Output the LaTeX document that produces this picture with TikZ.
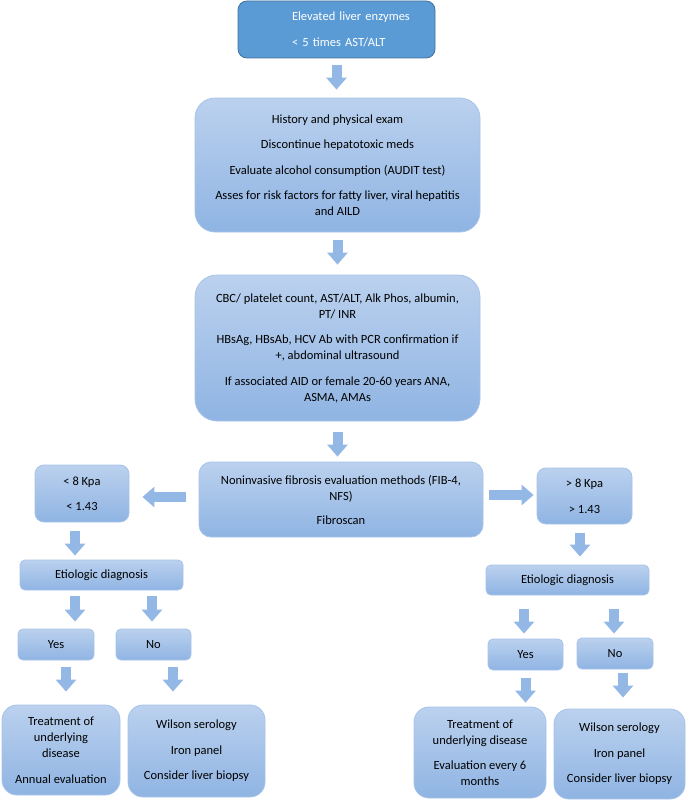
\documentclass[tikz,border=0pt]{standalone}
\usepackage{fontspec}
\setmainfont{Carlito}
\usetikzlibrary{arrows.meta,calc}

\definecolor{topfill}{RGB}{91,155,213}
\definecolor{topline}{RGB}{65,113,156}
\definecolor{boxtop}{RGB}{187,209,238}
\definecolor{boxbottom}{RGB}{143,180,227}
\definecolor{boxline}{RGB}{166,195,233}
\definecolor{arrowfill}{RGB}{148,184,229}

\begin{document}
\begin{tikzpicture}[x=1pt, y=-1pt,
  every node/.style={font=\fontsize{12.5}{16}\selectfont, align=center, inner sep=0pt},
  darkbox/.style={draw=topline, line width=0.8pt, fill=topfill, text=white, rounded corners=9pt},
  box/.style={draw=boxline, line width=0.8pt, top color=boxtop, bottom color=boxbottom, rounded corners=#1},
  box/.default=5pt,
  flow/.style={draw=arrowfill, line width=10pt, -{Triangle[width=20pt,length=12pt]}, shorten <=7pt, shorten >=7pt}]
    \useasboundingbox (0,0) rectangle (687,800);
    % Start
    \node[darkbox, minimum width=197pt, minimum height=57pt, text width=197pt, align=left] (enzymes) at (336.5,29.5)
      {\hspace*{54pt}Elevated liver enzymes\\[10pt]\hspace*{54pt}< 5 times AST/ALT};
    % Work-up
    \node[box=20pt, minimum width=285pt, minimum height=134pt] (history) at (337.5,165)
      {History and physical exam\\[9.5pt]Discontinue hepatotoxic meds\\[9.5pt]Evaluate alcohol consumption (AUDIT test)\\[9.5pt]Asses for risk factors for fatty liver, viral hepatitis\\and AILD};
    \node[box=22pt, minimum width=285pt, minimum height=146pt] (labs) at (337.5,348)
      {CBC/ platelet count, AST/ALT, Alk Phos, albumin,\\PT/ INR\\[9.5pt]HBsAg, HBsAb, HCV Ab with PCR confirmation if\\+, abdominal ultrasound\\[9.5pt]If associated AID or female 20-60 years ANA,\\ASMA, AMAs};
    \node[box=12pt, minimum width=284pt, minimum height=75pt] (fibrosis) at (341,499.5)
      {Noninvasive fibrosis evaluation methods (FIB-4,\\NFS)\\[8pt]Fibroscan};
    % Scores
    \node[box=9pt, minimum width=94pt, minimum height=57pt] (lowscore) at (82,493.5) {< 8 Kpa\\[9pt]< 1.43};
    \node[box=9pt, minimum width=95pt, minimum height=56pt] (highscore) at (584.5,496) {> 8 Kpa\\[10pt]> 1.43};
    % Etiology
    \node[box, minimum width=163pt, minimum height=30pt] (etiolow) at (101.5,575) {Etiologic diagnosis};
    \node[box, minimum width=163pt, minimum height=30pt] (etiohigh) at (567.5,580) {Etiologic diagnosis};
    \node[box, minimum width=76pt, minimum height=31pt] (yeslow) at (56,644.5) {Yes};
    \node[box, minimum width=75pt, minimum height=31pt] (nolow) at (153.5,644.5) {No};
    \node[box, minimum width=75pt, minimum height=31pt] (yeshigh) at (525.5,654.5) {Yes};
    \node[box, minimum width=76pt, minimum height=31pt] (nohigh) at (615,653.5) {No};
    % Management
    \node[box=15pt, minimum width=118pt, minimum height=90pt] (treatlow) at (61,750)
      {Treatment of\\underlying\\disease\\[10pt]Annual evaluation};
    \node[box=15pt, minimum width=137pt, minimum height=92pt] (wilsonlow) at (196.5,751)
      {Wilson serology\\[9.5pt]Iron panel\\[9.5pt]Consider liver biopsy};
    \node[box=15pt, minimum width=132pt, minimum height=91pt] (treathigh) at (480,752.5)
      {Treatment of\\underlying disease\\[9pt]Evaluation every 6\\months};
    \node[box=15pt, minimum width=131pt, minimum height=90pt] (wilsonhigh) at (619.5,754)
      {Wilson serology\\[9.5pt]Iron panel\\[9.5pt]Consider liver biopsy};
    % Arrows
    \draw[flow, shorten >=8pt] (enzymes.south) -- (enzymes.south |- history.north);
    \draw[flow, shorten <=8pt, shorten >=10pt] (history.south) -- (history.south |- labs.north);
    \draw[flow, shorten <=11pt, shorten >=5pt] (labs.south) -- (labs.south |- fibrosis.north);
    \draw[flow, shorten <=13pt, shorten >=13pt] ($(fibrosis.west)+(0,-2.5)$) -- ($(fibrosis.west -| lowscore.east)+(0,-2.5)$);
    \draw[flow, shorten <=6pt, shorten >=3pt] ($(fibrosis.east)+(0,-4.5)$) -- ($(fibrosis.east -| highscore.west)+(0,-4.5)$);
    \draw[flow, shorten <=9pt, shorten >=4pt] ($(lowscore.south)+(-7,0)$) -- ($(lowscore.south |- etiolow.north)+(-7,0)$);
    \draw[flow, shorten <=9pt, shorten >=8pt] ($(highscore.south)+(-4.5,0)$) -- ($(highscore.south |- etiohigh.north)+(-4.5,0)$);
    \draw[flow, shorten <=6pt] ($(etiolow.south)+(-26.5,0)$) -- ($(etiolow.south |- yeslow.north)+(-26.5,0)$);
    \draw[flow, shorten <=6pt] ($(etiolow.south)+(50.5,0)$) -- ($(etiolow.south |- nolow.north)+(50.5,0)$);
    \draw[flow, shorten <=14pt, shorten >=5pt] ($(etiohigh.south)+(-43.5,0)$) -- ($(etiohigh.south |- yeshigh.north)+(-43.5,0)$);
    \draw[flow, shorten <=14pt, shorten >=4pt] ($(etiohigh.south)+(46.5,0)$) -- ($(etiohigh.south |- nohigh.north)+(46.5,0)$);
    \draw[flow, shorten >=13pt] ($(yeslow.south)+(10,0)$) -- ($(yeslow.south |- treatlow.north)+(10,0)$);
    \draw[flow, shorten >=13pt] ($(nolow.south)+(19.5,0)$) -- ($(nolow.south |- wilsonlow.north)+(19.5,0)$);
    \draw[flow, shorten <=8pt, shorten >=4pt] (yeshigh.south) -- (yeshigh.south |- treathigh.north);
    \draw[flow, shorten <=4pt, shorten >=11pt] ($(nohigh.south)+(8,0)$) -- ($(nohigh.south |- wilsonhigh.north)+(8,0)$);
\end{tikzpicture}
\end{document}
